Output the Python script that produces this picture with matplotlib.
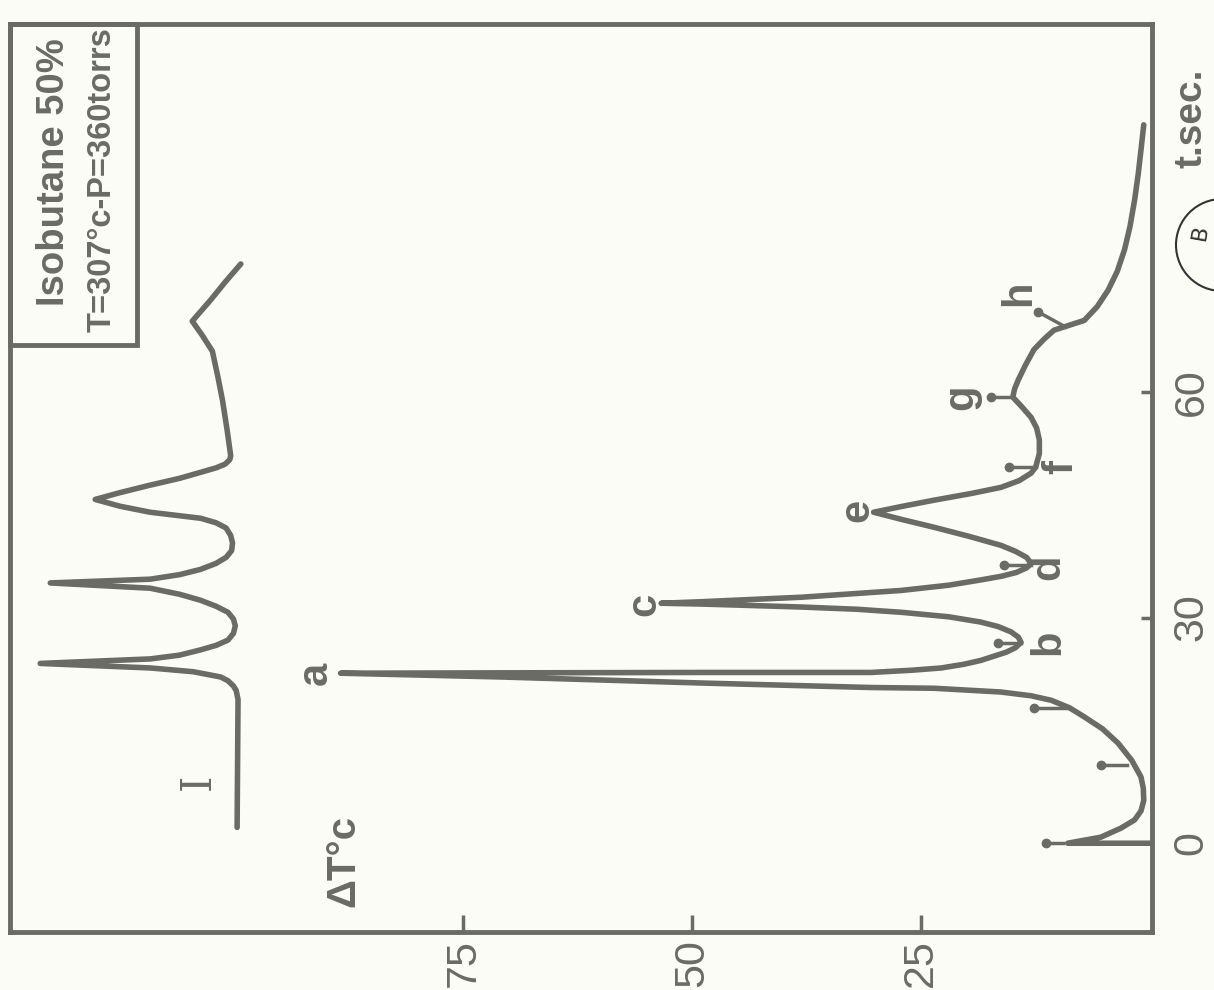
import matplotlib
matplotlib.use("Agg")
import matplotlib.pyplot as plt
from matplotlib.patches import Rectangle, Ellipse

# trace: time (s) and temperature rise (deg C)
t_main = [0, 0, 0.8, 2.0, 3.1, 4.3, 5.7, 7.3, 8.8, 11.0, 13.3, 15.2, 16.8, 18.0, 19.0, 19.6,
          20.1, 20.6, 20.7, 21.3, 22.1, 22.6,
          22.65, 22.7, 22.7, 23.0, 23.3, 23.8, 24.3, 25.4, 26.0, 26.7, 27.4, 28.1, 28.8, 29.4,
          30.1, 30.7, 31.1, 31.4, 31.8, 31.9,
          32.1, 32.7, 33.6, 34.3, 35.0, 35.5, 36.0, 36.6, 37.2, 38.0, 38.8, 39.6, 40.8, 42.0,
          43.0, 44.0, 44.8, 45.6, 46.5, 47.3, 48.2, 49.2, 50.0, 51.8, 53.6, 55.2, 56.6, 58.0,
          59.3, 60.4, 61.6, 63.6, 65.6, 67.0, 68.2, 69.5, 71.3, 73.5, 76.0, 78.9, 82.0, 85.5,
          89.0, 92.2, 95.5]
dT_main = [0, 9.0, 5.4, 3.2, 1.7, 1.0, 0.7, 0.75, 1.0, 2.0, 3.5, 5.2, 7.2, 8.8, 10.8, 13.0,
           16.3, 23.6, 30.5, 49.1, 70.9, 88.4,
           70.9, 49.1, 30.5, 26.0, 22.8, 20.3, 18.5, 15.7, 14.7, 14.1, 14.4, 15.2, 16.6, 18.5,
           22.0, 27.2, 32.0, 38.1, 49.1, 53.4,
           49.1, 38.1, 27.2, 22.0, 18.5, 16.2, 14.6, 13.5, 13.0, 13.5, 14.7, 16.3, 19.8, 23.6,
           27.0, 30.2, 27.0, 23.6, 19.5, 16.3, 14.3, 13.0, 12.5, 12.1, 12.1, 12.4, 13.0, 14.0,
           15.0, 14.8, 14.4, 13.6, 12.7, 11.6, 10.5, 7.2, 5.8, 4.6, 3.6, 2.8, 2.2, 1.7,
           1.3, 1.0, 0.7]

# curve I (drawn on an offset baseline)
t_I = [2.1, 19.1, 20.3, 20.9, 21.6, 22.1, 22.8, 23.3, 23.9, 24.5, 25.0, 25.7, 26.3, 27.0,
       27.9, 28.9, 29.8, 30.7, 31.5, 32.3, 33.1, 33.9, 34.6, 35.1, 35.7, 36.4, 37.2, 38.0,
       38.9, 39.9, 40.9, 41.9, 42.6, 43.2, 44.0, 44.8, 45.7, 46.6, 47.6, 48.5, 49.3, 49.9,
       50.4, 51.0, 51.5, 55.0, 58.9, 62.0, 65.4, 67.5, 69.4, 70.8, 72.2, 74.6, 77.0]
dT_I = [99.7, 99.6, 99.8, 100.1, 100.7, 101.5, 104.5, 109.2, 121.2, 109.2, 106.0, 103.7,
        102.0, 100.7, 100.1, 99.9, 100.1, 100.7, 102.0, 103.7, 106.0, 109.2, 120.1, 109.2,
        106.0, 103.7, 102.0, 100.9, 100.3, 100.2, 100.4, 100.9, 102.0, 103.7, 109.2, 112.5,
        115.2, 112.5, 109.2, 106.0, 103.7, 102.0, 101.0, 100.5, 100.4, 100.8, 101.3, 101.8,
        102.4, 103.5, 104.6, 103.6, 102.6, 101.0, 99.3]

# small marker arrows: time, start (on curve), end (dot)
arrow_t = [0.0, 10.4, 18.0, 26.6, 37.0, 50.0, 59.3]
arrow_from = [9.5, 2.5, 9.0, 14.1, 13.0, 12.5, 15.0]
arrow_to = [11.4, 5.4, 12.7, 16.6, 16.0, 15.4, 17.4]

peak_labels = ["a", "b", "c", "d", "e", "f", "g", "h"]
label_t = [22.6, 26.7, 31.8, 36.7, 44.2, 50.0, 59.3, 73.1]
label_dT = [91.1, 11.1, 55.2, 11.1, 32.0, 9.7, 20.6, 14.3]

x_ticks = [25, 50, 75]
y_ticks = [0, 30, 60]

ink = "#6b6b66"
bg = "#fcfcf7"
plt.rcParams["font.family"] = ["Liberation Sans", "DejaVu Sans"]

fig = plt.figure(figsize=(12.14, 9.9), dpi=100, facecolor=bg)
ax = fig.add_axes([10 / 1214, 1 - 932 / 990, 1142 / 1214, 908 / 990])
ax.set_facecolor(bg)

ax.plot(dT_main, t_main, color=ink, lw=4, solid_capstyle="round", solid_joinstyle="round")
ax.plot(dT_I, t_I, color=ink, lw=4, solid_capstyle="round", solid_joinstyle="round")

for t, a0, a1 in zip(arrow_t, arrow_from, arrow_to):
    ax.plot([a0, a1], [t, t], color=ink, lw=2.5)
    ax.plot([a1], [t], "o", color=ink, ms=6)
# arrow at h is slanted
ax.plot([9.2, 12.2], [68.6, 70.6], color=ink, lw=2.5)
ax.plot([12.2], [70.6], "o", color=ink, ms=6)

for lab, t, d in zip(peak_labels, label_t, label_dT):
    ax.text(d, t, lab, rotation=90, ha="center", va="center", color=ink,
            fontsize=30, fontweight="bold")

ax.text(104, 8.1, "I", rotation=90, ha="center", va="center", color=ink,
        fontsize=30, family="DejaVu Serif")
ax.text(88.1, -2.3, "ΔT°c", rotation=90, ha="center", va="center", color=ink,
        fontsize=29, fontweight="bold")

ax.set_xlim(124.5, -0.2)
ax.set_ylim(-11.8, 108.9)
for s in ax.spines.values():
    s.set_color(ink)
    s.set_linewidth(3.5)

ax.set_xticks(x_ticks)
ax.set_xticklabels([str(v) for v in x_ticks], rotation=90)
ax.set_yticks(y_ticks)
ax.set_yticklabels([str(v) for v in y_ticks], rotation=90, va="center")
ax.yaxis.tick_right()
ax.tick_params(axis="both", direction="in", colors=ink, width=2.5, labelsize=31)
ax.tick_params(axis="x", length=12, pad=5)
ax.tick_params(axis="y", length=8, pad=14)

fig.text(1191 / 1214, 1 - 118 / 990, "t.sec.", rotation=90, ha="center", va="center",
         color=ink, fontsize=28, fontweight="bold")

# legend box in the top left corner, sharing the frame's top edge
fig.add_artist(Rectangle((10 / 1214, 1 - 345 / 990), 127 / 1214, 321 / 990,
                         transform=fig.transFigure, fill=False, ec=ink, lw=3.5))
fig.text(54 / 1214, 1 - 172 / 990, "Isobutane 50%", rotation=90, ha="center", va="center",
         color=ink, fontsize=27.5, fontweight="bold")
fig.text(102 / 1214, 1 - 180 / 990, "T=307°c-P=360torrs", rotation=90, ha="center",
         va="center", color=ink, fontsize=23.5, fontweight="bold")

# library stamp, cut by the page edge
fig.add_artist(Ellipse((1222 / 1214, 1 - 245 / 990), 92 / 1214, 92 / 990,
                       transform=fig.transFigure, fill=False, ec="#333333", lw=1.5))
fig.text(1200 / 1214, 1 - 232 / 990, "B", rotation=80, ha="center", va="center",
         color="#333333", fontsize=16, family="DejaVu Sans")

fig.savefig("out.png", dpi=100, facecolor=bg)
